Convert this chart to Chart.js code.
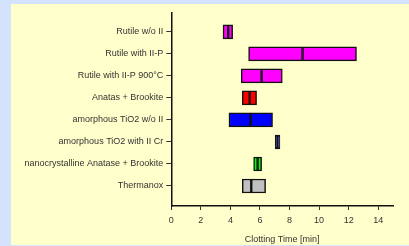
<!DOCTYPE html>
<html>
<head>
<meta charset="utf-8">
<script src="https://cdn.jsdelivr.net/npm/chart.js@4/dist/chart.umd.min.js"></script>
<style>
  html, body { margin: 0; padding: 0; }
  body { width: 409px; height: 246px; background: #d5e2fb; position: relative; overflow: hidden; }
  #panel { position: absolute; left: 11px; top: 4px; width: 398px; height: 241px; background: #ffffcc; }
  #c { display: block; }
</style>
</head>
<body>
<div id="panel"><canvas id="c" width="398" height="241"></canvas></div>
<script>
const categories = [
  "Rutile w/o II",
  "Rutile with II-P",
  "Rutile with II-P 900°C",
  "Anatas + Brookite",
  "amorphous TiO2 w/o II",
  "amorphous TiO2 with II Cr",
  "nanocrystalline Anatase + Brookite",
  "Thermanox"
];
const lows    = [3.50, 5.23, 4.73, 4.80, 3.90, 7.03, 5.57, 4.80];
const medians = [3.85, 8.88, 6.11, 5.30, 5.37, 7.20, 5.84, 5.41];
const highs   = [4.15, 12.53, 7.51, 5.77, 6.85, 7.35, 6.11, 6.38];
const xTicks  = [0, 2, 4, 6, 8, 10, 12, 14];

const barColors = ["#ff00ff", "#ff00ff", "#ff00ff", "#ff0000", "#0000ff", "#000080", "#00ff00", "#c0c0c0"];

const lowerHalf = categories.map((c, i) => ({ y: i, x: [lows[i], medians[i]] }));
const upperHalf = categories.map((c, i) => ({ y: i, x: [medians[i], highs[i]] }));

const common = {
  backgroundColor: barColors,
  borderColor: "#111",
  borderWidth: 1.5,
  borderSkipped: false,
  barThickness: 14,
  grouped: false
};

new Chart(document.getElementById("c"), {
  type: "bar",
  data: {
    datasets: [
      Object.assign({ data: lowerHalf }, common),
      Object.assign({ data: upperHalf }, common)
    ]
  },
  options: {
    indexAxis: "y",
    responsive: false,
    animation: false,
    layout: { padding: { left: 0, right: 16, top: 9, bottom: 0 } },
    plugins: { legend: { display: false }, tooltip: { enabled: false } },
    scales: {
      x: {
        type: "linear",
        min: 0,
        max: 15,
        afterBuildTicks: s => { s.ticks = xTicks.map(v => ({ value: v })); },
        afterFit: s => { s.height = 39; },
        border: { display: true, color: "#111", width: 1.5 },
        grid: { drawOnChartArea: false, drawTicks: true, tickLength: 4, color: "#333", lineWidth: 1 },
        ticks: { color: "#333", font: { family: "Liberation Sans", size: 9 }, padding: 5 },
        title: { display: true, text: "Clotting Time [min]", color: "#333", font: { family: "Liberation Sans", size: 9 }, padding: { top: 4, bottom: 0 } }
      },
      y: {
        type: "linear",
        offset: false,
        min: -0.86,
        max: 7.91,
        reverse: true,
        afterBuildTicks: s => { s.ticks = categories.map((c, i) => ({ value: i })); },
        afterFit: s => { s.width = 160.3; },
        border: { display: true, color: "#111", width: 1.5 },
        grid: { offset: false, drawOnChartArea: false, drawTicks: true, tickLength: 5, color: "#333", lineWidth: 1 },
        ticks: {
          color: "#333",
          font: { family: "Liberation Sans", size: 9 },
          padding: 3,
          callback: v => categories[v]
        }
      }
    }
  }
});
</script>
</body>
</html>
